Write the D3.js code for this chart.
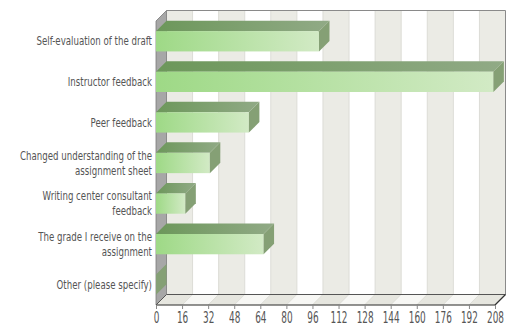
<!DOCTYPE html>
<html>
<head>
<meta charset="utf-8">
<script src="https://cdn.jsdelivr.net/npm/d3@7"></script>
<style>
  html, body { margin: 0; padding: 0; background: #fff; }
  svg { display: block; }
  text { font-family: "DejaVu Sans Condensed", "DejaVu Sans", sans-serif; }
</style>
</head>
<body>
<svg id="chart" width="513" height="327"></svg>
<script>
// ---- data ----
const categories = [
  "Self-evaluation of the draft",
  "Instructor feedback",
  "Peer feedback",
  "Changed understanding of the\nassignment sheet",
  "Writing center consultant\nfeedback",
  "The grade I receive on the\nassignment",
  "Other (please specify)"
];
const values = [100, 207, 57, 33, 18, 66, 0];
const tickValues = [0, 16, 32, 48, 64, 80, 96, 112, 128, 144, 160, 176, 192, 208];

// ---- layout ----
const svg = d3.select("#chart");
const pLeft = 156, pRight = 495, pTop = 21, pBottom = 305;
const dx = 10.5, dy = 10.5;

const x = d3.scaleLinear().domain([0, 208]).range([pLeft, pRight]);
const y = d3.scaleBand().domain(categories).range([pTop, pBottom]).paddingInner(0.5).paddingOuter(0.25);

const defs = svg.append("defs");
const gFront = defs.append("linearGradient").attr("id", "gFront").attr("x1", "0").attr("x2", "1").attr("y1", "0").attr("y2", "0");
gFront.append("stop").attr("offset", "0").attr("stop-color", "#9ed986");
gFront.append("stop").attr("offset", "1").attr("stop-color", "#d2eac5");
const gTop = defs.append("linearGradient").attr("id", "gTop").attr("x1", "0").attr("x2", "1").attr("y1", "0").attr("y2", "0");
gTop.append("stop").attr("offset", "0").attr("stop-color", "#6c975a");
gTop.append("stop").attr("offset", "1").attr("stop-color", "#91aa86");

const poly = pts => "M" + pts.map(p => p.join(",")).join("L") + "Z";

// back wall bands
const bands = d3.range(tickValues.length - 1).map(i => [tickValues[i], tickValues[i + 1], i]);
svg.append("g").selectAll("rect").data(bands).join("rect")
  .attr("x", d => x(d[0]) + dx).attr("y", pTop - dy)
  .attr("width", d => x(d[1]) - x(d[0])).attr("height", pBottom - pTop)
  .attr("fill", d => d[2] % 2 === 0 ? "#ebebe5" : "#ffffff");
// grid lines at band boundaries
svg.append("g").selectAll("line").data(tickValues.slice(1, -1)).join("line")
  .attr("x1", d => x(d) + dx).attr("x2", d => x(d) + dx)
  .attr("y1", pTop - dy).attr("y2", pBottom - dy)
  .attr("stroke", "#dcdcd6").attr("stroke-width", 1);

// floor bands
svg.append("g").selectAll("path").data(bands).join("path")
  .attr("d", d => poly([[x(d[0]), pBottom], [x(d[1]), pBottom], [x(d[1]) + dx, pBottom - dy], [x(d[0]) + dx, pBottom - dy]]))
  .attr("fill", d => d[2] % 2 === 0 ? "#e6e6df" : "#f7f7f4")
  .attr("stroke", "#d8d8d2").attr("stroke-width", 0.6);

// back wall border
svg.append("path")
  .attr("d", `M${x(0) + dx},${pTop - dy}L${x(208) + dx},${pTop - dy}L${x(208) + dx},${pBottom - dy}`)
  .attr("fill", "none").attr("stroke", "#8a8a8a").attr("stroke-width", 1);
svg.append("line").attr("x1", x(0) + dx).attr("x2", x(208) + dx)
  .attr("y1", pBottom - dy).attr("y2", pBottom - dy).attr("stroke", "#555").attr("stroke-width", 1);

// left wall
svg.append("path")
  .attr("d", poly([[pLeft, pTop], [pLeft + dx, pTop - dy], [pLeft + dx, pBottom - dy], [pLeft, pBottom]]))
  .attr("fill", "#a7a7a7").attr("stroke", "#7a7a7a").attr("stroke-width", 0.8);

// bars
const bars = svg.append("g").selectAll("g").data(categories.map((c, i) => ({ c, v: values[i] }))).join("g");
bars.append("path") // top face
  .attr("d", d => {
    const y0 = y(d.c), x0 = x(0), x1 = x(d.v);
    return poly([[x0, y0], [x1, y0], [x1 + dx, y0 - dy], [x0 + dx, y0 - dy]]);
  })
  .attr("fill", "url(#gTop)");
bars.append("rect") // front face
  .attr("x", x(0)).attr("y", d => y(d.c))
  .attr("width", d => x(d.v) - x(0)).attr("height", y.bandwidth())
  .attr("fill", "url(#gFront)");
bars.append("path") // right side face
  .attr("d", d => {
    const y0 = y(d.c), y1 = y0 + y.bandwidth(), x1 = x(d.v);
    return poly([[x1, y0], [x1 + dx, y0 - dy], [x1 + dx, y1 - dy], [x1, y1]]);
  })
  .attr("fill", "#85a075");

// front axis lines
svg.append("line").attr("x1", pLeft).attr("x2", pRight).attr("y1", pBottom).attr("y2", pBottom)
  .attr("stroke", "#333").attr("stroke-width", 1.2);
svg.append("line").attr("x1", pRight).attr("x2", pRight + dx).attr("y1", pBottom).attr("y2", pBottom - dy)
  .attr("stroke", "#333").attr("stroke-width", 1.2);
svg.append("line").attr("x1", pLeft).attr("x2", pLeft + dx).attr("y1", pBottom).attr("y2", pBottom - dy)
  .attr("stroke", "#555").attr("stroke-width", 1);

// x axis
const xAxis = d3.axisBottom(x).tickValues(tickValues).tickSize(4).tickPadding(3).tickFormat(d3.format("d"));
const ax = svg.append("g").attr("transform", `translate(0,${pBottom})`).call(xAxis);
ax.select(".domain").remove();
ax.selectAll(".tick line").attr("stroke", "#888");
ax.selectAll(".tick text").attr("fill", "#555").attr("font-size", 15)
  .attr("transform", "scale(0.66,1)");

// y labels
const lab = svg.append("g").selectAll("text").data(categories).join("text")
  .attr("text-anchor", "end").attr("fill", "#555").attr("font-size", 12)
  .attr("transform", d => `translate(${pLeft - 4},${y(d) + y.bandwidth() / 2}) scale(0.8,1)`);
lab.each(function (d) {
  const lines = d.split("\n");
  const t = d3.select(this);
  const lh = 15;
  lines.forEach((ln, i) => {
    t.append("tspan").attr("x", 0)
      .attr("y", (i - (lines.length - 1) / 2) * lh)
      .attr("dy", "0.35em").text(ln);
  });
});
</script>
</body>
</html>
